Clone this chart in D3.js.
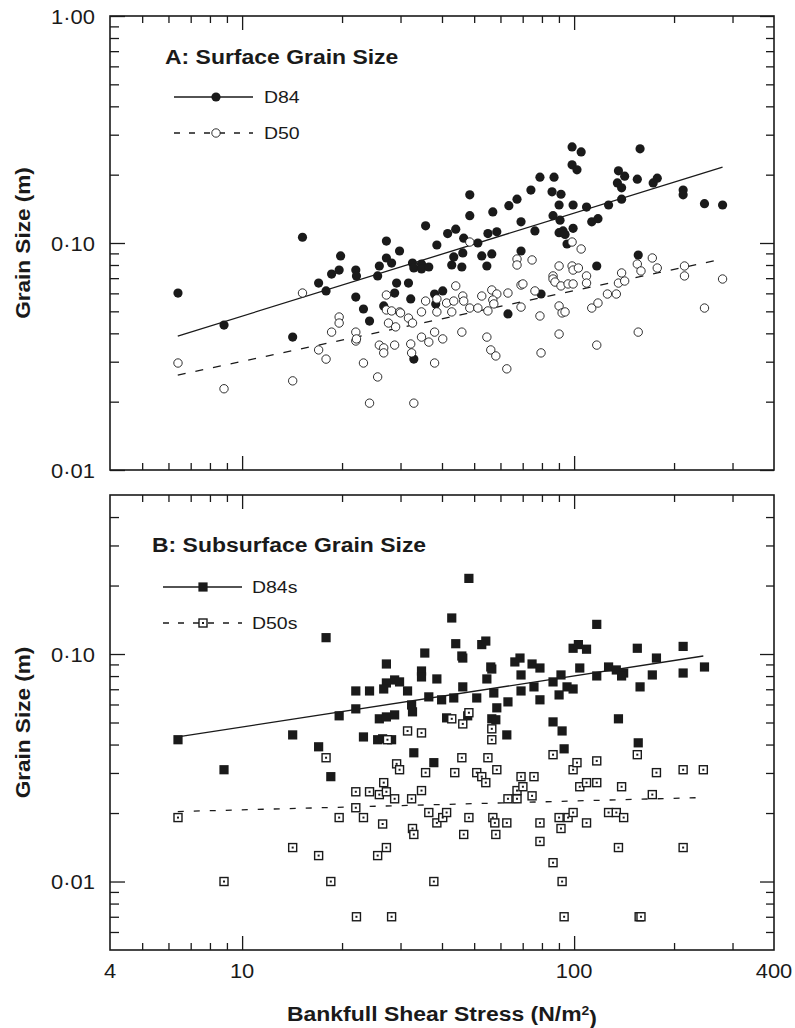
<!DOCTYPE html>
<html><head><meta charset="utf-8">
<script src="https://cdn.jsdelivr.net/npm/d3@7"></script>
<style>
body{margin:0;background:#fff}
svg text{font-family:"Liberation Sans",Arial,Helvetica,sans-serif;fill:#1a1a1a}
</style>
</head><body>
<svg id="chart" width="795" height="1028"></svg>
<script>
// ---------- DATA (bankfull shear stress N/m², grain size m) ----------
const surfaceD84 = [
[6.41,0.0602],[8.82,0.0435],[14.2,0.0385],[15.2,0.106],[17.0,0.0666],[17.9,0.0615],[18.6,0.0730],[19.6,0.0760],[19.8,0.0877],[22.0,0.0760],
[22.1,0.0716],[22.0,0.0578],[23.2,0.0512],[24.2,0.0453],[25.6,0.0716],[25.9,0.0792],[27.2,0.102],[27.2,0.0859],[28.2,0.0816],[29.2,0.0666],
[28.8,0.0602],[26.7,0.0528],[29.8,0.0922],[31.7,0.0666],[32.2,0.0567],[32.6,0.0816],[32.9,0.0776],[34.7,0.0808],[34.7,0.0768],[36.5,0.0784],
[35.7,0.119],[32.9,0.0308],[38.0,0.0596],[38.3,0.0539],[40.2,0.0615],[38.6,0.098],[41.6,0.110],[44.0,0.115],[42.8,0.080],[43.4,0.0868],
[45.9,0.0784],[46.2,0.0904],[46.5,0.105],[48.5,0.163],[48.5,0.132],[51.3,0.100],[52.7,0.0877],[54.6,0.0792],[56.5,0.0895],[55.0,0.110],
[58.5,0.112],[56.9,0.137],[63.6,0.146],[67.3,0.156],[69.2,0.124],[69.2,0.0922],[63.2,0.0487],[74.1,0.171],[98.6,0.265],[105,0.252],
[98.6,0.221],[102,0.210],[158,0.260],[78.9,0.195],[87.0,0.195],[85.8,0.168],[91.3,0.164],[90.1,0.147],[99.3,0.147],[109,0.144],
[127,0.147],[139,0.156],[135,0.184],[139,0.175],[136,0.208],[142,0.197],[155,0.191],[173,0.184],[178,0.193],[213,0.171],
[213,0.163],[247,0.149],[280,0.147],[76.2,0.113],[86.4,0.132],[90.7,0.126],[90.1,0.111],[92.6,0.113],[93.9,0.109],[99.3,0.116],
[95.2,0.099],[113,0.124],[118,0.128],[156,0.0885],[117,0.0792],[79.5,0.0596]];

const surfaceD50 = [
[6.41,0.0296],[8.82,0.0228],[14.2,0.0247],[15.2,0.0602],[17.0,0.0338],[17.9,0.0308],[18.6,0.0405],[19.6,0.0472],[19.6,0.0444],[22.0,0.0405],
[22.0,0.0370],[23.2,0.0296],[24.2,0.0197],[25.6,0.0257],[25.9,0.0355],[26.7,0.0345],[26.7,0.0328],[27.2,0.0590],[27.2,0.0507],[28.2,0.0502],
[27.6,0.0444],[29.0,0.0427],[28.8,0.0355],[29.8,0.0497],[31.7,0.0467],[32.6,0.0444],[32.2,0.0359],[32.4,0.0328],[32.9,0.0197],[34.7,0.0497],
[34.7,0.0385],[36.5,0.0366],[35.7,0.0555],[38.0,0.0296],[38.0,0.0405],[38.6,0.0567],[38.6,0.0497],[40.2,0.0378],[41.3,0.0544],[43.4,0.0555],
[42.8,0.0497],[44.0,0.0647],[46.2,0.0584],[46.5,0.0555],[45.9,0.0405],[48.5,0.101],[48.5,0.0517],[51.3,0.0517],[52.7,0.0584],[55.0,0.0502],
[54.6,0.0385],[56.5,0.0621],[58.5,0.0596],[56.9,0.0561],[57.3,0.0539],[56.1,0.0338],[58.1,0.0318],[62.7,0.0279],[63.2,0.0602],[67.3,0.0850],
[67.3,0.0800],[69.2,0.0653],[69.2,0.0522],[98.6,0.101],[105,0.0941],[74.7,0.0842],[90.1,0.0792],[98.6,0.0792],[99.3,0.0760],[103,0.0776],
[109,0.0716],[109,0.0666],[86.4,0.0716],[86.4,0.0694],[87.6,0.0673],[91.3,0.0647],[95.9,0.0660],[99.3,0.0660],[70.1,0.0660],[76.2,0.0615],
[78.9,0.0477],[90.1,0.0528],[92.0,0.0492],[93.9,0.0497],[113,0.0517],[118,0.0544],[126,0.0596],[134,0.0596],[136,0.0666],[142,0.0680],
[139,0.0738],[90.1,0.0397],[79.5,0.0328],[117,0.0355],[156,0.0405],[155,0.0808],[159,0.0753],[172,0.0859],[178,0.0776],[215,0.0792],
[215,0.0716],[247,0.0517],[280,0.0694],[30.0,0.0492],[22.1,0.0378]];

const subsurfaceD84 = [
[6.41,0.0420],[8.82,0.0310],[14.2,0.0441],[17.0,0.0391],[17.9,0.118],[18.5,0.0289],[19.6,0.0535],[22.0,0.0574],[22.0,0.0688],[24.2,0.0688],
[23.2,0.0432],[25.6,0.0420],[26.5,0.0424],[28.2,0.0420],[25.9,0.0519],[27.2,0.0529],[28.8,0.0540],[27.2,0.0904],[27.2,0.0746],[28.8,0.0769],
[29.8,0.0754],[26.7,0.0702],[31.5,0.0688],[32.4,0.0597],[32.6,0.0557],[32.9,0.0368],[34.7,0.0842],[34.7,0.0793],[35.5,0.101],[36.5,0.0648],
[37.8,0.0333],[38.6,0.0777],[39.9,0.0629],[41.3,0.0524],[42.8,0.144],[43.4,0.0641],[44.0,0.111],[45.9,0.098],[46.2,0.096],[46.2,0.0717],
[47.8,0.0535],[48.2,0.215],[50.9,0.0641],[52.7,0.110],[54.2,0.114],[54.6,0.0777],[56.1,0.0877],[56.5,0.0859],[57.3,0.0674],[56.5,0.0519],
[58.1,0.0514],[58.5,0.0580],[62.7,0.0441],[63.2,0.0616],[66.3,0.0923],[68.7,0.096],[69.2,0.0809],[69.2,0.0688],[74.7,0.0904],[75.7,0.0717],
[78.9,0.0868],[78.9,0.0629],[86.4,0.0754],[90.1,0.0661],[86.4,0.0503],[92.0,0.0459],[93.3,0.0383],[95.2,0.0717],[99.3,0.0702],[91.3,0.0809],
[99.3,0.106],[103,0.110],[109,0.105],[104,0.0868],[117,0.135],[117,0.0801],[127,0.0877],[134,0.0851],[141,0.0825],[139,0.0801],
[136,0.0519],[155,0.106],[156,0.0407],[158,0.0717],[172,0.0809],[177,0.096],[213,0.108],[213,0.0825],[247,0.0877]];

const subsurfaceD50 = [
[6.41,0.0191],[8.82,0.0100],[14.2,0.0141],[17.0,0.0130],[17.9,0.0350],[18.5,0.0100],[19.6,0.0191],[22.0,0.0248],[22.0,0.0211],[23.2,0.0191],
[24.2,0.0248],[25.6,0.0130],[27.2,0.0141],[25.9,0.0241],[26.7,0.0272],[27.2,0.0248],[28.8,0.0231],[26.5,0.0179],[22.1,0.0070],[28.2,0.0070],
[27.4,0.0420],[29.2,0.0329],[29.8,0.0310],[31.5,0.0459],[34.7,0.0450],[32.4,0.0231],[34.7,0.0251],[32.6,0.0171],[32.9,0.0161],[35.7,0.0301],
[36.5,0.0201],[38.6,0.0181],[40.2,0.0191],[41.3,0.0201],[37.8,0.0100],[42.8,0.0519],[46.2,0.0493],[48.2,0.0552],[45.9,0.0350],[43.7,0.0301],
[48.2,0.0191],[46.5,0.0161],[50.9,0.0301],[52.7,0.0289],[54.2,0.0272],[55.0,0.0350],[56.5,0.0469],[56.5,0.0420],[58.5,0.0310],[56.9,0.0191],
[57.7,0.0181],[62.7,0.0181],[58.1,0.0161],[63.2,0.0231],[67.3,0.0231],[67.3,0.0251],[69.2,0.0289],[70.1,0.0261],[75.7,0.0289],[74.7,0.0238],
[78.9,0.0181],[78.9,0.0150],[86.4,0.0361],[86.4,0.0121],[90.1,0.0191],[95.9,0.0191],[99.3,0.0201],[91.3,0.0171],[92.0,0.0100],[93.3,0.0070],
[99.3,0.0310],[102,0.0333],[117,0.0339],[104,0.0261],[109,0.0272],[117,0.0272],[109,0.0181],[127,0.0201],[134,0.0201],[141,0.0191],
[139,0.0261],[136,0.0141],[155,0.0361],[157,0.0070],[159,0.0070],[177,0.0301],[172,0.0241],[213,0.0310],[245,0.0310],[213,0.0141]];

// fitted power-law lines (endpoints)
const surfaceFitTau = [6.4, 280];
const surfaceD84Fit = [0.0389, 0.216];
const surfaceD50Fit = [0.0262, 0.085];
const subsurfaceFitTau = [6.4, 245];
const subsurfaceD84Fit = [0.0432, 0.098];
const subsurfaceD50Fit = [0.0203, 0.0234];

// ticks
const xMajorTicks = [10, 100];
const xMinorTicks = [5,6,7,8,9,20,30,40,50,60,70,80,90,200,300];
const xLabelTicks = [4, 10, 100, 400];
const xLabelText = ["4", "10", "100", "400"];
const topYMajor = [0.01, 0.1, 1];
const topYMinor = [0.02,0.03,0.04,0.05,0.06,0.07,0.08,0.09,0.2,0.3,0.4,0.5,0.6,0.7,0.8,0.9];
const topYLabelText = ["0·01", "0·10", "1·00"];
const botYMajor = [0.01, 0.1];
const botYMinor = [0.006,0.007,0.008,0.009,0.02,0.03,0.04,0.05,0.06,0.07,0.08,0.09,0.2,0.3,0.4];
const botYLabelText = ["0·01", "0·10"];

// ---------- DRAW ----------
const INK = "#1a1a1a";
const FONT = '"Liberation Sans",Arial,Helvetica,sans-serif';
const svg = d3.select("#chart");
const L = 110, R = 774;
const x = d3.scaleLog().domain([4, 400]).range([L, R]);

// text with a slight horizontal stretch (the original typeface is wide)
function wideText(parent, px, py, str, o) {
  const g = parent.append("g")
    .attr("transform", `translate(${px},${py})${o.rotate ? ` rotate(${o.rotate})` : ""} scale(${o.sx || 1.13},1)`);
  return g.append("text").attr("text-anchor", o.anchor || "start")
    .attr("dy", o.dy || 0)
    .style("font-family", FONT)
    .style("font-size", o.size + "px").style("font-weight", o.weight || "normal").text(str);
}

function panel(cfg) {
  const y = d3.scaleLog().domain(cfg.yDomain).range([cfg.bottom, cfg.top]);
  const g = svg.append("g");
  const W = R - L, H = cfg.bottom - cfg.top;

  function ax(axisGen, tv, size, tx, ty) {
    const a = axisGen.tickValues(tv).tickSizeInner(-size).tickSizeOuter(0).tickFormat("");
    const s = g.append("g").attr("transform", `translate(${tx},${ty})`).call(a);
    s.select(".domain").remove();
    s.selectAll("line").attr("stroke", INK).attr("stroke-width", 1.3);
    return s;
  }
  ax(d3.axisBottom(x), xMinorTicks, 7, 0, cfg.bottom);
  ax(d3.axisBottom(x), xMajorTicks, 14, 0, cfg.bottom);
  ax(d3.axisTop(x), xMinorTicks, 7, 0, cfg.top);
  ax(d3.axisTop(x), xMajorTicks, 14, 0, cfg.top);
  ax(d3.axisLeft(y), cfg.yMinor, 9, L, 0);
  ax(d3.axisLeft(y), cfg.yMajor, 15, L, 0);
  ax(d3.axisRight(y), cfg.yMinor, 8, R, 0);
  ax(d3.axisRight(y), cfg.yMajor, 14, R, 0);

  // y tick labels
  cfg.yMajor.forEach((v, i) =>
    wideText(g, L - 15, y(v), cfg.yLabels[i], {size: 20.5, anchor: "end", dy: "0.38em", sx: 1.07}));

  if (cfg.xLabels) {
    xLabelTicks.forEach((v, i) =>
      wideText(g, x(v), 978, xLabelText[i], {size: 20.5, anchor: "middle", sx: 1.07}));
  }

  g.append("rect").attr("x", L).attr("y", cfg.top).attr("width", W).attr("height", H)
    .attr("fill", "none").attr("stroke", INK).attr("stroke-width", 1.6);

  wideText(g, 30, (cfg.top + cfg.bottom) / 2, "Grain Size (m)",
    {size: 20.5, weight: "bold", anchor: "middle", rotate: -90, sx: 1.1});

  wideText(g, cfg.titleX, cfg.titleY, cfg.title, {size: 20.5, weight: "bold", sx: 1.12});

  // fit lines
  const line = d3.line().x(d => x(d[0])).y(d => y(d[1]));
  const solid = cfg.fitTau.map((t, i) => [t, cfg.fit84[i]]);
  const dashed = cfg.fitTau.map((t, i) => [t, cfg.fit50[i]]);
  g.append("path").attr("d", line(solid)).attr("fill", "none").attr("stroke", INK).attr("stroke-width", 1.3);
  g.append("path").attr("d", line(dashed)).attr("fill", "none").attr("stroke", INK).attr("stroke-width", 1.3)
    .attr("stroke-dasharray", cfg.dash);

  cfg.draw84(g.append("g"), cfg.d84, y);
  cfg.draw50(g.append("g"), cfg.d50, y);

  // legend
  const lg = g.append("g");
  const le = cfg.legend;
  lg.append("line").attr("x1", le.x1).attr("x2", le.x2).attr("y1", le.y1).attr("y2", le.y1)
    .attr("stroke", INK).attr("stroke-width", 1.3);
  lg.append("line").attr("x1", le.x1).attr("x2", le.x2).attr("y1", le.y2).attr("y2", le.y2)
    .attr("stroke", INK).attr("stroke-width", 1.3).attr("stroke-dasharray", "6,9");
  cfg.mark84(lg, le.mx, le.y1);
  cfg.mark50(lg, le.mx, le.y2);
  wideText(lg, le.tx, le.y1, le.t1, {size: 16.5, dy: "0.36em", sx: 1.18});
  wideText(lg, le.tx, le.y2, le.t2, {size: 16.5, dy: "0.36em", sx: 1.18});
}

function filledCircle(sel, cx, cy) {
  sel.append("circle").attr("cx", cx).attr("cy", cy).attr("r", 4.6).attr("fill", INK);
}
function openCircle(sel, cx, cy) {
  sel.append("circle").attr("cx", cx).attr("cy", cy).attr("r", 4.2)
    .attr("fill", "#fff").attr("stroke", INK).attr("stroke-width", 0.9);
}
function filledSquare(sel, cx, cy) {
  sel.append("rect").attr("x", cx - 4.6).attr("y", cy - 4.6).attr("width", 9.2).attr("height", 9.2).attr("fill", INK);
}
function dotSquare(sel, cx, cy) {
  sel.append("rect").attr("x", cx - 4).attr("y", cy - 4).attr("width", 8).attr("height", 8)
    .attr("fill", "#fff").attr("stroke", INK).attr("stroke-width", 1.4);
  sel.append("rect").attr("x", cx - 1).attr("y", cy - 1).attr("width", 2).attr("height", 2).attr("fill", INK);
}
function drawWith(mk) {
  return (g, data, y) => data.forEach(d => mk(g, x(d[0]), y(d[1])));
}

panel({
  top: 16, bottom: 470, yDomain: [0.01, 1],
  yMajor: topYMajor, yMinor: topYMinor, yLabels: topYLabelText, xLabels: false,
  title: "A: Surface Grain Size", titleX: 165, titleY: 64,
  fitTau: surfaceFitTau, fit84: surfaceD84Fit, fit50: surfaceD50Fit, dash: "8,10",
  d84: surfaceD84, d50: surfaceD50,
  draw84: drawWith(filledCircle), draw50: drawWith(openCircle),
  mark84: filledCircle, mark50: openCircle,
  legend: {x1: 174, x2: 253, mx: 216, y1: 97, y2: 133, tx: 264, t1: "D84", t2: "D50"}
});

panel({
  top: 495, bottom: 950, yDomain: [0.005, 0.5],
  yMajor: botYMajor, yMinor: botYMinor, yLabels: botYLabelText, xLabels: true,
  title: "B: Subsurface Grain Size", titleX: 152, titleY: 552,
  fitTau: subsurfaceFitTau, fit84: subsurfaceD84Fit, fit50: subsurfaceD50Fit, dash: "6,10",
  d84: subsurfaceD84, d50: subsurfaceD50,
  draw84: drawWith(filledSquare), draw50: drawWith(dotSquare),
  mark84: filledSquare, mark50: dotSquare,
  legend: {x1: 163, x2: 242, mx: 203, y1: 587, y2: 623, tx: 252, t1: "D84s", t2: "D50s"}
});

// x title
const xt = wideText(svg, (L + R) / 2, 1021, "", {size: 20.5, weight: "bold", anchor: "middle", sx: 1.12});
xt.append("tspan").text("Bankfull Shear Stress (N/m");
xt.append("tspan").attr("dy", "-0.45em").style("font-size", "12.5px").text("2");
xt.append("tspan").attr("dy", "0.45em").text(")");
</script>
</body></html>
